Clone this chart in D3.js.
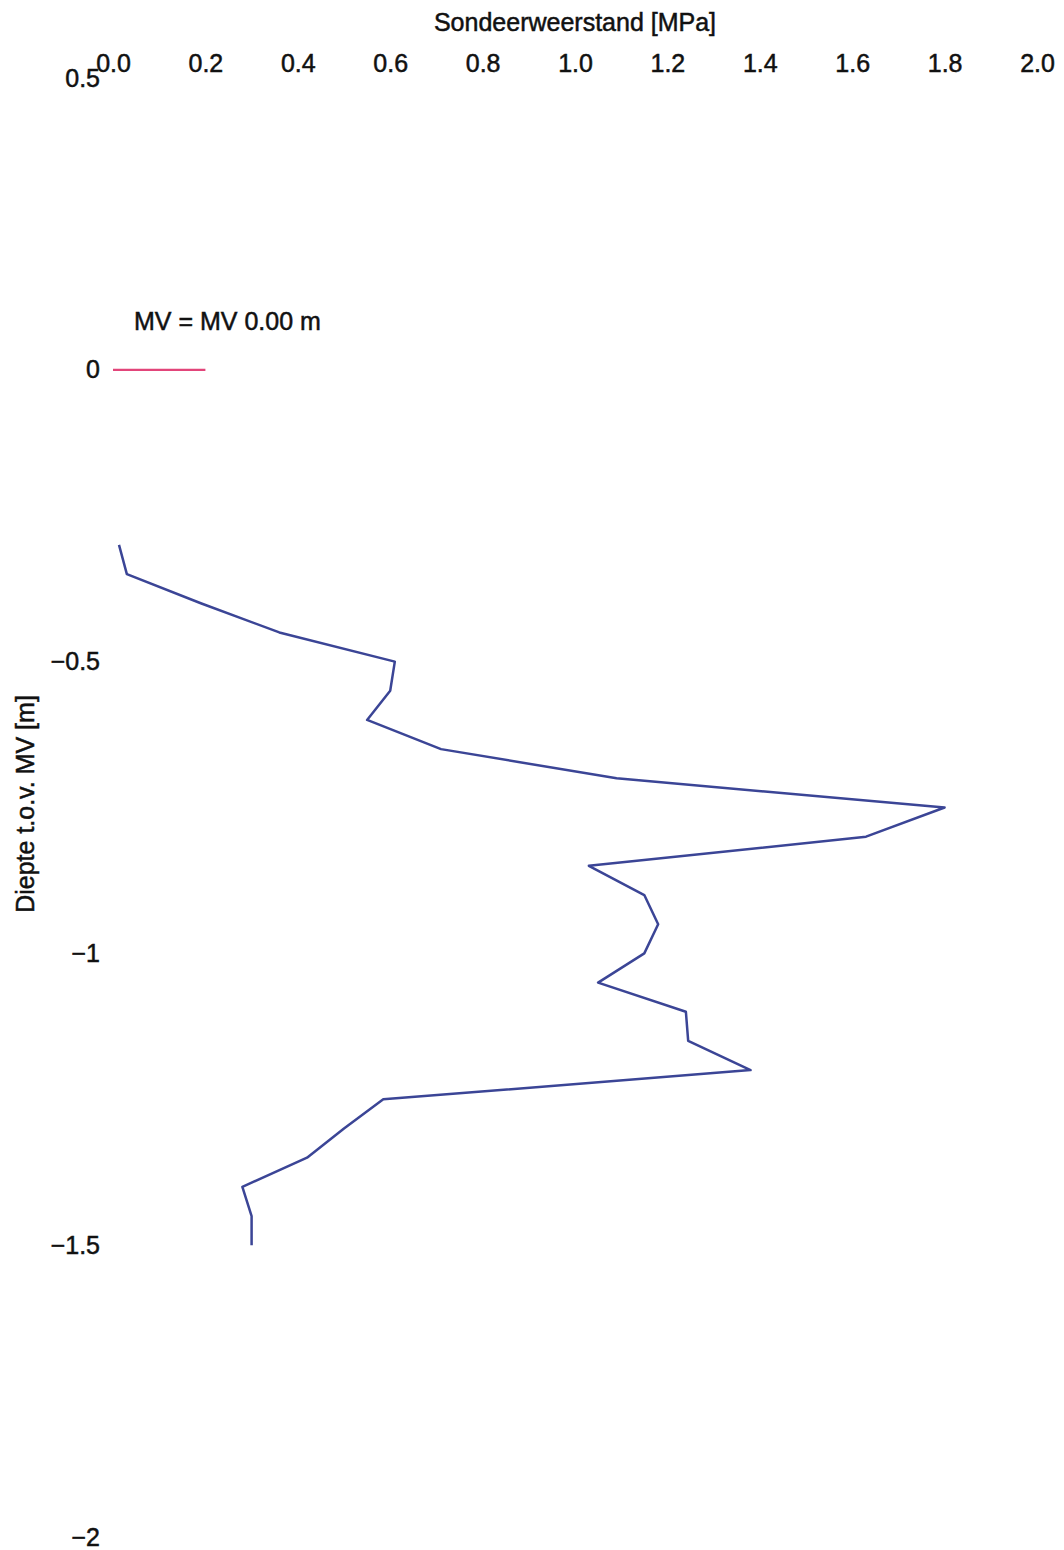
<!DOCTYPE html>
<html>
<head>
<meta charset="utf-8">
<script src="https://cdn.jsdelivr.net/npm/d3@7"></script>
<style>
  html, body { margin: 0; padding: 0; background: #fff; }
  svg { display: block; font-family: "Liberation Sans", Arial, sans-serif; }
  .lbl { stroke: #111; stroke-width: 0.5px; fill: #111; }
</style>
</head>
<body>
<svg id="chart" width="1064" height="1550"></svg>
<script>
// Depth below ground level [m] (tov MV)
const depths = [-0.30, -0.35, -0.40, -0.45, -0.50, -0.55, -0.60, -0.65, -0.70, -0.75,
                -0.80, -0.85, -0.90, -0.95, -1.00, -1.05, -1.10, -1.15, -1.20, -1.25,
                -1.30, -1.35, -1.40, -1.45, -1.50];
// Cone resistance [MPa]
const resistance = [0.013, 0.03, 0.19, 0.36, 0.61, 0.60, 0.55, 0.71, 1.09, 1.80,
                    1.63, 1.03, 1.15, 1.18, 1.15, 1.05, 1.24, 1.245, 1.38, 0.585,
                    0.50, 0.42, 0.28, 0.30, 0.30];
// Ground level (MV) marker
const mvX = [0.0, 0.2];
const mvY = [0, 0];
const mvLabel = "MV = MV 0.00 m";
// Ticks
const xTicks = [0.0, 0.2, 0.4, 0.6, 0.8, 1.0, 1.2, 1.4, 1.6, 1.8, 2.0];
const yTicks = [0.5, 0, -0.5, -1, -1.5, -2];
const xTitle = "Sondeerweerstand [MPa]";
const yTitle = "Diepte t.o.v. MV [m]";

const FS = 25;
const svg = d3.select("#chart");
const x = d3.scaleLinear().domain([0, 2]).range([113, 1037]);
const y = d3.scaleLinear().domain([0.5, -2]).range([78, 1537]);

// X axis on top
const xAxis = svg.append("g")
  .attr("transform", "translate(0,63)")
  .call(d3.axisTop(x).tickValues(xTicks).tickFormat(d3.format(".1f")).tickSize(0).tickPadding(0));
xAxis.select(".domain").remove();
xAxis.selectAll("text")
  .attr("class", "lbl")
  .attr("dy", "0.35em")
  .attr("font-size", FS)
  .attr("font-family", "Liberation Sans, Arial, sans-serif");

// Y axis
const yAxis = svg.append("g")
  .attr("transform", "translate(100,0)")
  .call(d3.axisLeft(y).tickValues(yTicks).tickFormat(d3.format("")).tickSize(0).tickPadding(0));
yAxis.select(".domain").remove();
yAxis.selectAll("text")
  .attr("class", "lbl")
  .attr("font-size", FS)
  .attr("font-family", "Liberation Sans, Arial, sans-serif");

// Titles
svg.append("text")
  .attr("class", "lbl")
  .attr("x", 575).attr("y", 31)
  .attr("text-anchor", "middle")
  .attr("font-size", FS)
  .text(xTitle);

svg.append("text")
  .attr("class", "lbl")
  .attr("transform", "translate(34,804) rotate(-90)")
  .attr("text-anchor", "middle")
  .attr("font-size", FS)
  .text(yTitle);

// MV line
const mvData = mvX.map((v, i) => ({ x: v, y: mvY[i] }));
svg.append("path")
  .datum(mvData)
  .attr("fill", "none")
  .attr("stroke", "#e2457a")
  .attr("stroke-width", 2.2)
  .attr("d", d3.line().x(d => x(d.x)).y(d => y(d.y)));

svg.append("text")
  .attr("class", "lbl")
  .attr("x", 134).attr("y", 330)
  .attr("font-size", FS)
  .text(mvLabel);

// CPT line
const data = depths.map((d, i) => ({ x: resistance[i], y: d }));
svg.append("path")
  .datum(data)
  .attr("fill", "none")
  .attr("stroke", "#3b4596")
  .attr("stroke-width", 2.5)
  .attr("stroke-linejoin", "round")
  .attr("d", d3.line().x(d => x(d.x)).y(d => y(d.y)));
</script>
</body>
</html>
